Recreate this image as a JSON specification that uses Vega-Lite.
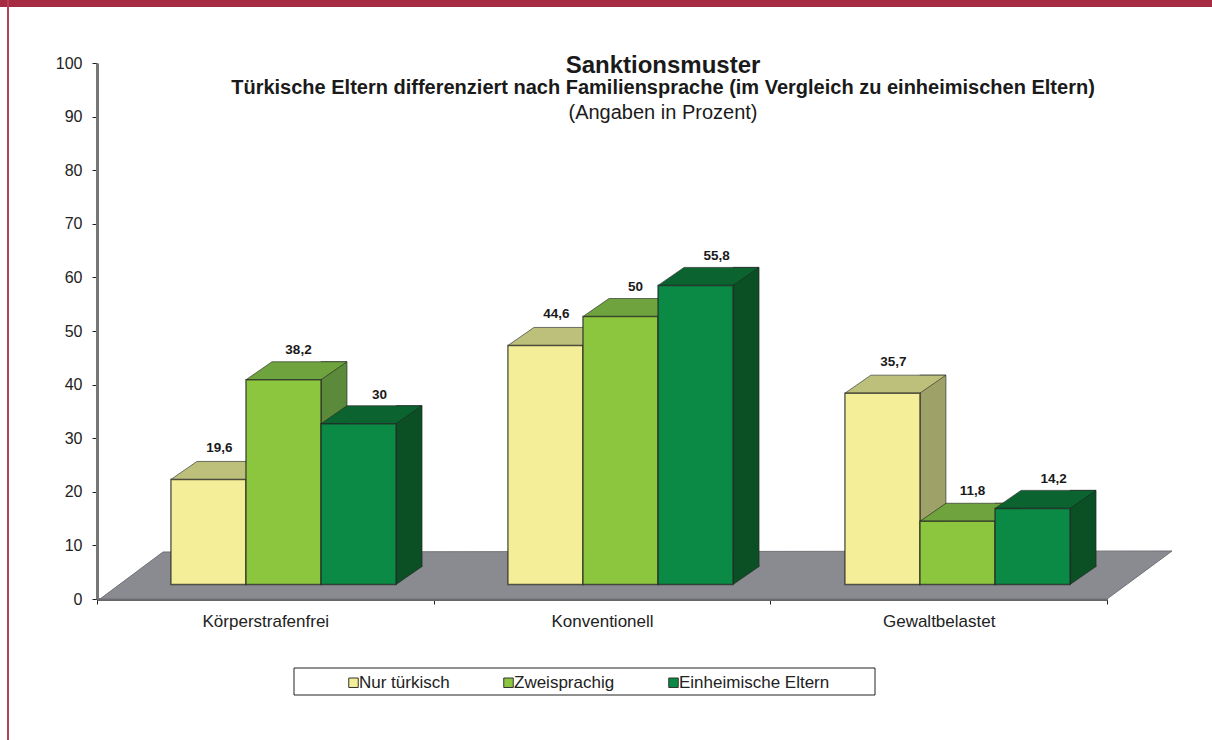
{
"$schema":"https://vega.github.io/schema/vega-lite/v6.json",
"width":1010,"height":536,"autosize":"none",
"padding":{"left":97,"top":63,"right":105,"bottom":141},
"background":"white",
"config":{"font":"Liberation Sans","view":{"stroke":null}},
"title":{"text":"Sanktionsmuster","subtitle":"Türkische Eltern differenziert nach Familiensprache (im Vergleich zu einheimischen Eltern)","anchor":"middle","frame":"group","dx":61,"dy":98,"offset":0,"font":"Liberation Sans","fontSize":24,"fontWeight":"bold","color":"#1a1a1a","subtitleFont":"Liberation Sans","subtitleFontSize":20,"subtitleFontWeight":"bold","subtitleColor":"#1a1a1a","subtitlePadding":0},
"datasets":{"Werte":[
{"Gruppe":"Körperstrafenfrei","Reihe":"Nur türkisch","Wert":19.6,"Label":"19,6"},
{"Gruppe":"Körperstrafenfrei","Reihe":"Zweisprachig","Wert":38.2,"Label":"38,2"},
{"Gruppe":"Körperstrafenfrei","Reihe":"Einheimische Eltern","Wert":30,"Label":"30"},
{"Gruppe":"Konventionell","Reihe":"Nur türkisch","Wert":44.6,"Label":"44,6"},
{"Gruppe":"Konventionell","Reihe":"Zweisprachig","Wert":50,"Label":"50"},
{"Gruppe":"Konventionell","Reihe":"Einheimische Eltern","Wert":55.8,"Label":"55,8"},
{"Gruppe":"Gewaltbelastet","Reihe":"Nur türkisch","Wert":35.7,"Label":"35,7"},
{"Gruppe":"Gewaltbelastet","Reihe":"Zweisprachig","Wert":11.8,"Label":"11,8"},
{"Gruppe":"Gewaltbelastet","Reihe":"Einheimische Eltern","Wert":14.2,"Label":"14,2"}
]},
"data":{"name":"Werte"},
"resolve":{"scale":{"x":"independent","y":"independent","xOffset":"independent","color":"independent"}},
"layer":[
{"data":{"values":[{}]},"mark":{"type":"rect","fill":"#a52c42"},"encoding":{
"x":{"datum":0,"type":"quantitative","scale":{"domain":[0,1212],"range":[-97,1115],"nice":false,"zero":false},"axis":null},
"x2":{"datum":1212},
"y":{"datum":0,"type":"quantitative","scale":{"domain":[0,740],"range":[-63,677],"nice":false,"zero":false},"axis":null},
"y2":{"datum":7}}},
{"data":{"values":[{}]},"mark":{"type":"rect","fill":"#b5405a"},"encoding":{
"x":{"datum":7,"type":"quantitative","scale":{"domain":[0,1212],"range":[-97,1115],"nice":false,"zero":false},"axis":null},
"x2":{"datum":9},
"y":{"datum":0,"type":"quantitative","scale":{"domain":[0,740],"range":[-63,677],"nice":false,"zero":false},"axis":null},
"y2":{"datum":740}}},
{"data":{"values":[{}]},"mark":{"type":"rect","fill":"white","stroke":"#222222","strokeWidth":1},"encoding":{
"x":{"datum":294,"type":"quantitative","scale":{"domain":[0,1212],"range":[-97,1115],"nice":false,"zero":false},"axis":null},
"x2":{"datum":875},
"y":{"datum":668,"type":"quantitative","scale":{"domain":[0,740],"range":[-63,677],"nice":false,"zero":false},"axis":null},
"y2":{"datum":695}}},
{"data":{"values":[{}]},"mark":{"type":"text","text":"(Angaben in Prozent)","fontSize":20,"color":"#1a1a1a","align":"center","baseline":"middle"},"encoding":{
"x":{"datum":663,"type":"quantitative","scale":{"domain":[0,1212],"range":[-97,1115],"nice":false,"zero":false},"axis":null},
"y":{"datum":113,"type":"quantitative","scale":{"domain":[0,740],"range":[-63,677],"nice":false,"zero":false},"axis":null}}},
{"data":{"values":[{"Gruppe":"Konventionell","Wert":0}]},
"mark":{"type":"point","shape":"M-502,0 L-439,-47 L570,-48 L505,0 Z","size":4,"filled":true,"opacity":1,"fill":"#8a8b90","stroke":"#707176","strokeWidth":1},
"encoding":{
"x":{"field":"Gruppe","type":"nominal","sort":null,"title":null,"scale":{"type":"band","domain":["Körperstrafenfrei","Konventionell","Gewaltbelastet"],"paddingInner":0,"paddingOuter":0},
"axis":{"orient":"bottom","labelAngle":0,"labelFontSize":17,"labelColor":"#222222","labelPadding":9,"tickBand":"extent","tickColor":"#222222","tickSize":5,"domainColor":"#66676b","domainWidth":3}},
"y":{"field":"Wert","type":"quantitative","title":null,"scale":{"domain":[0,100],"nice":false},
"axis":{"orient":"left","values":[0,10,20,30,40,50,60,70,80,90,100],"grid":false,"labelFontSize":16,"labelColor":"#222222","labelPadding":10,"tickColor":"#222222","tickSize":5,"domainColor":"#77777a","domainWidth":3}}}},
{"mark":{"type":"bar","width":26,"stroke":"#222222","strokeWidth":1,"strokeOpacity":0.6},
"encoding":{
"x":{"field":"Gruppe","type":"nominal","sort":null,"axis":null,"scale":{"type":"band","domain":["Körperstrafenfrei","Konventionell","Gewaltbelastet"],"range":[68.5,1079.5],"paddingInner":0,"paddingOuter":0}},
"xOffset":{"field":"Reihe","type":"nominal","scale":{"type":"band","domain":["Nur türkisch","Zweisprachig","Einheimische Eltern"],"paddingInner":0,"paddingOuter":0.745}},
"y":{"field":"Wert","type":"quantitative","stack":null,"axis":null,"scale":{"domain":[0,100],"range":[503.5,-32.5],"nice":false}},
"y2":{"datum":0},
"color":{"field":"Reihe","type":"nominal","legend":null,"scale":{"domain":["Nur türkisch","Zweisprachig","Einheimische Eltern"],"range":["#9fa268","#5a8a3a","#0b4f25"]}}}},
{"mark":{"type":"point","shape":"M37.5,-19 L37.5,0 L63.5,-18 L63.5,-19","size":4,"filled":true,"opacity":1,"stroke":"#222222","strokeWidth":1,"strokeOpacity":0.6},
"encoding":{
"x":{"field":"Gruppe","type":"nominal","sort":null,"axis":null,"scale":{"type":"band","domain":["Körperstrafenfrei","Konventionell","Gewaltbelastet"],"range":[18,1029],"paddingInner":0,"paddingOuter":0}},
"xOffset":{"field":"Reihe","type":"nominal","scale":{"type":"band","domain":["Nur türkisch","Zweisprachig","Einheimische Eltern"],"paddingInner":0,"paddingOuter":0.745}},
"y":{"datum":0,"type":"quantitative","axis":null,"scale":{"domain":[0,100],"range":[521.5,-14.5],"nice":false}},
"color":{"field":"Reihe","type":"nominal","legend":null,"scale":{"domain":["Nur türkisch","Zweisprachig","Einheimische Eltern"],"range":["#9fa268","#5a8a3a","#0b4f25"]}}}},
{"mark":{"type":"point","shape":"M-37.5,0 L37.5,0 L63.5,-18 L-11.5,-18 Z","size":4,"filled":true,"opacity":1,"stroke":"#222222","strokeWidth":1,"strokeOpacity":0.6},
"encoding":{
"x":{"field":"Gruppe","type":"nominal","sort":null,"axis":null,"scale":{"type":"band","domain":["Körperstrafenfrei","Konventionell","Gewaltbelastet"],"range":[18,1029],"paddingInner":0,"paddingOuter":0}},
"xOffset":{"field":"Reihe","type":"nominal","scale":{"type":"band","domain":["Nur türkisch","Zweisprachig","Einheimische Eltern"],"paddingInner":0,"paddingOuter":0.745}},
"y":{"field":"Wert","type":"quantitative","axis":null,"scale":{"domain":[0,100],"range":[521.5,-14.5],"nice":false}},
"color":{"field":"Reihe","type":"nominal","legend":null,"scale":{"domain":["Nur türkisch","Zweisprachig","Einheimische Eltern"],"range":["#bcc07a","#6ea33e","#0b6330"]}}}},
{"mark":{"type":"bar","stroke":"#222222","strokeWidth":1.5,"strokeOpacity":0.7},
"encoding":{
"x":{"field":"Gruppe","type":"nominal","sort":null,"axis":null,"scale":{"type":"band","domain":["Körperstrafenfrei","Konventionell","Gewaltbelastet"],"range":[18,1029],"paddingInner":0,"paddingOuter":0}},
"xOffset":{"field":"Reihe","type":"nominal","scale":{"type":"band","domain":["Nur türkisch","Zweisprachig","Einheimische Eltern"],"paddingInner":0,"paddingOuter":0.745}},
"y":{"field":"Wert","type":"quantitative","stack":null,"axis":null,"scale":{"domain":[0,100],"range":[521.5,-14.5],"nice":false}},
"y2":{"datum":0},
"color":{"field":"Reihe","type":"nominal","title":null,"scale":{"domain":["Nur türkisch","Zweisprachig","Einheimische Eltern"],"range":["#f3ee97","#8cc63f","#0a8a45"]},
"legend":{"orient":"none","legendX":248,"legendY":611,"direction":"horizontal","padding":0,"columnPadding":50,"symbolType":"square","symbolSize":90,"symbolStrokeColor":"#333333","symbolStrokeWidth":1,"symbolOpacity":1,"labelFont":"Liberation Sans","labelFontSize":17,"labelColor":"#222222","labelOffset":-3}}}},
{"transform":[{"filter":"datum.Reihe == 'Nur türkisch'"}],"mark":{"type":"text","dx":11,"dy":-31,"fontSize":13.5,"fontWeight":"bold","color":"#1a1a1a","align":"center","baseline":"middle"},
"encoding":{
"x":{"field":"Gruppe","type":"nominal","sort":null,"axis":null,"scale":{"type":"band","domain":["Körperstrafenfrei","Konventionell","Gewaltbelastet"],"range":[18,1029],"paddingInner":0,"paddingOuter":0}},
"xOffset":{"field":"Reihe","type":"nominal","scale":{"type":"band","domain":["Nur türkisch","Zweisprachig","Einheimische Eltern"],"paddingInner":0,"paddingOuter":0.745}},
"y":{"field":"Wert","type":"quantitative","axis":null,"scale":{"domain":[0,100],"range":[521.5,-14.5],"nice":false}},
"text":{"field":"Label","type":"nominal"}}},
{"transform":[{"filter":"datum.Reihe == 'Zweisprachig'"}],"mark":{"type":"text","dx":15,"dy":-30,"fontSize":13.5,"fontWeight":"bold","color":"#1a1a1a","align":"center","baseline":"middle"},
"encoding":{
"x":{"field":"Gruppe","type":"nominal","sort":null,"axis":null,"scale":{"type":"band","domain":["Körperstrafenfrei","Konventionell","Gewaltbelastet"],"range":[18,1029],"paddingInner":0,"paddingOuter":0}},
"xOffset":{"field":"Reihe","type":"nominal","scale":{"type":"band","domain":["Nur türkisch","Zweisprachig","Einheimische Eltern"],"paddingInner":0,"paddingOuter":0.745}},
"y":{"field":"Wert","type":"quantitative","axis":null,"scale":{"domain":[0,100],"range":[521.5,-14.5],"nice":false}},
"text":{"field":"Label","type":"nominal"}}},
{"transform":[{"filter":"datum.Reihe == 'Einheimische Eltern'"}],"mark":{"type":"text","dx":21,"dy":-29,"fontSize":13.5,"fontWeight":"bold","color":"#1a1a1a","align":"center","baseline":"middle"},
"encoding":{
"x":{"field":"Gruppe","type":"nominal","sort":null,"axis":null,"scale":{"type":"band","domain":["Körperstrafenfrei","Konventionell","Gewaltbelastet"],"range":[18,1029],"paddingInner":0,"paddingOuter":0}},
"xOffset":{"field":"Reihe","type":"nominal","scale":{"type":"band","domain":["Nur türkisch","Zweisprachig","Einheimische Eltern"],"paddingInner":0,"paddingOuter":0.745}},
"y":{"field":"Wert","type":"quantitative","axis":null,"scale":{"domain":[0,100],"range":[521.5,-14.5],"nice":false}},
"text":{"field":"Label","type":"nominal"}}}
]
}
